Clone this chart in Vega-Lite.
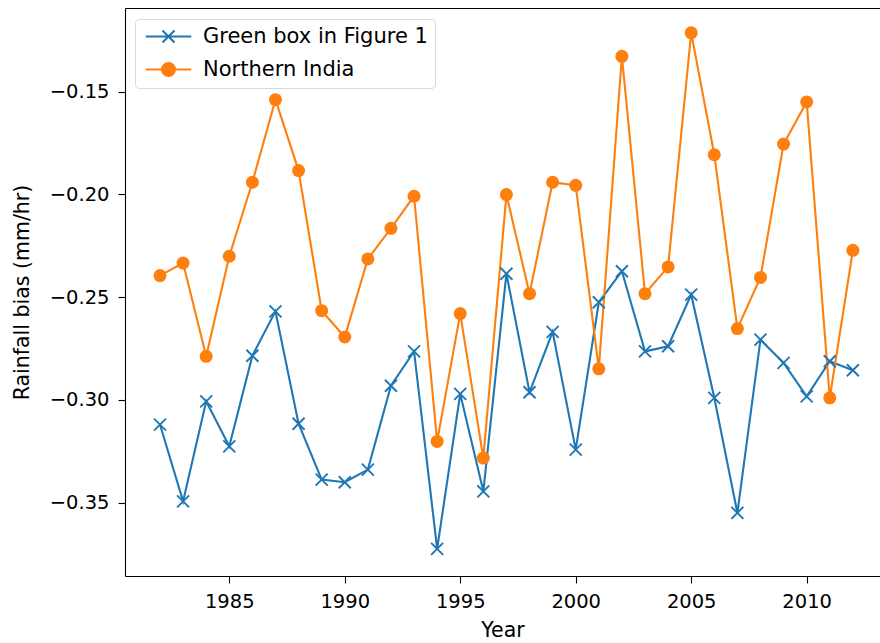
{
  "$schema": "https://vega.github.io/schema/vega-lite/v6.json",
  "autosize": {"type": "none"},
  "padding": {"left": 125, "top": 8, "right": 0, "bottom": 67},
  "width": 755,
  "height": 568,
  "background": "white",
  "config": {
    "view": {"stroke": null},
    "font": "DejaVu Sans",
    "axis": {
      "grid": false,
      "labelFont": "DejaVu Sans",
      "labelFontSize": 19.5,
      "labelColor": "#000000",
      "titleFont": "DejaVu Sans",
      "titleFontSize": 20.5,
      "titleFontWeight": "normal",
      "titleColor": "#000000",
      "domainColor": "#000000",
      "domainWidth": 1.1,
      "tickColor": "#000000",
      "tickWidth": 1.1,
      "tickSize": 7
    },
    "legend": {
      "labelFont": "DejaVu Sans",
      "labelFontSize": 21,
      "labelColor": "#000000",
      "labelLimit": 400
    }
  },
  "data": {
    "values": [
      {"Year": 1982, "series": "Green box in Figure 1", "bias": -0.312},
      {"Year": 1983, "series": "Green box in Figure 1", "bias": -0.3494},
      {"Year": 1984, "series": "Green box in Figure 1", "bias": -0.3007},
      {"Year": 1985, "series": "Green box in Figure 1", "bias": -0.3226},
      {"Year": 1986, "series": "Green box in Figure 1", "bias": -0.2785},
      {"Year": 1987, "series": "Green box in Figure 1", "bias": -0.2569},
      {"Year": 1988, "series": "Green box in Figure 1", "bias": -0.3116},
      {"Year": 1989, "series": "Green box in Figure 1", "bias": -0.3388},
      {"Year": 1990, "series": "Green box in Figure 1", "bias": -0.3401},
      {"Year": 1991, "series": "Green box in Figure 1", "bias": -0.3339},
      {"Year": 1992, "series": "Green box in Figure 1", "bias": -0.2931},
      {"Year": 1993, "series": "Green box in Figure 1", "bias": -0.2764},
      {"Year": 1994, "series": "Green box in Figure 1", "bias": -0.3725},
      {"Year": 1995, "series": "Green box in Figure 1", "bias": -0.2971},
      {"Year": 1996, "series": "Green box in Figure 1", "bias": -0.3445},
      {"Year": 1997, "series": "Green box in Figure 1", "bias": -0.2386},
      {"Year": 1998, "series": "Green box in Figure 1", "bias": -0.2963},
      {"Year": 1999, "series": "Green box in Figure 1", "bias": -0.2669},
      {"Year": 2000, "series": "Green box in Figure 1", "bias": -0.3242},
      {"Year": 2001, "series": "Green box in Figure 1", "bias": -0.2525},
      {"Year": 2002, "series": "Green box in Figure 1", "bias": -0.2374},
      {"Year": 2003, "series": "Green box in Figure 1", "bias": -0.2764},
      {"Year": 2004, "series": "Green box in Figure 1", "bias": -0.2739},
      {"Year": 2005, "series": "Green box in Figure 1", "bias": -0.2488},
      {"Year": 2006, "series": "Green box in Figure 1", "bias": -0.299},
      {"Year": 2007, "series": "Green box in Figure 1", "bias": -0.355},
      {"Year": 2008, "series": "Green box in Figure 1", "bias": -0.2707},
      {"Year": 2009, "series": "Green box in Figure 1", "bias": -0.282},
      {"Year": 2010, "series": "Green box in Figure 1", "bias": -0.2983},
      {"Year": 2011, "series": "Green box in Figure 1", "bias": -0.2812},
      {"Year": 2012, "series": "Green box in Figure 1", "bias": -0.2856},
      {"Year": 1982, "series": "Northern India", "bias": -0.2395},
      {"Year": 1983, "series": "Northern India", "bias": -0.2334},
      {"Year": 1984, "series": "Northern India", "bias": -0.2788},
      {"Year": 1985, "series": "Northern India", "bias": -0.2301},
      {"Year": 1986, "series": "Northern India", "bias": -0.1941},
      {"Year": 1987, "series": "Northern India", "bias": -0.1539},
      {"Year": 1988, "series": "Northern India", "bias": -0.1884},
      {"Year": 1989, "series": "Northern India", "bias": -0.2566},
      {"Year": 1990, "series": "Northern India", "bias": -0.2694},
      {"Year": 1991, "series": "Northern India", "bias": -0.2314},
      {"Year": 1992, "series": "Northern India", "bias": -0.2165},
      {"Year": 1993, "series": "Northern India", "bias": -0.2009},
      {"Year": 1994, "series": "Northern India", "bias": -0.3202},
      {"Year": 1995, "series": "Northern India", "bias": -0.258},
      {"Year": 1996, "series": "Northern India", "bias": -0.3283},
      {"Year": 1997, "series": "Northern India", "bias": -0.2001},
      {"Year": 1998, "series": "Northern India", "bias": -0.2483},
      {"Year": 1999, "series": "Northern India", "bias": -0.1941},
      {"Year": 2000, "series": "Northern India", "bias": -0.1956},
      {"Year": 2001, "series": "Northern India", "bias": -0.2849},
      {"Year": 2002, "series": "Northern India", "bias": -0.1328},
      {"Year": 2003, "series": "Northern India", "bias": -0.2483},
      {"Year": 2004, "series": "Northern India", "bias": -0.2353},
      {"Year": 2005, "series": "Northern India", "bias": -0.1214},
      {"Year": 2006, "series": "Northern India", "bias": -0.1807},
      {"Year": 2007, "series": "Northern India", "bias": -0.2653},
      {"Year": 2008, "series": "Northern India", "bias": -0.2404},
      {"Year": 2009, "series": "Northern India", "bias": -0.1755},
      {"Year": 2010, "series": "Northern India", "bias": -0.155},
      {"Year": 2011, "series": "Northern India", "bias": -0.299},
      {"Year": 2012, "series": "Northern India", "bias": -0.2272}
    ]
  },
  "resolve": {"axis": {"x": "independent"}},
  "layer": [
    {
      "mark": {"type": "line", "strokeWidth": 2.1},
      "encoding": {
        "x": {
          "field": "Year",
          "type": "quantitative",
          "scale": {"domain": [1980.485, 2013.175], "nice": false, "zero": false},
          "axis": {
            "title": "Year",
            "values": [1985, 1990, 1995, 2000, 2005, 2010],
            "format": "d",
            "labelPadding": 9,
            "titlePadding": 10
          }
        },
        "y": {
          "field": "bias",
          "type": "quantitative",
          "scale": {"domain": [-0.3857, -0.1093], "nice": false, "zero": false},
          "axis": {
            "title": "Rainfall bias (mm/hr)",
            "values": [-0.35, -0.3, -0.25, -0.2, -0.15],
            "format": ".2f",
            "labelPadding": 9,
            "titlePadding": 17
          }
        },
        "color": {
          "field": "series",
          "type": "nominal",
          "scale": {
            "domain": ["Green box in Figure 1", "Northern India"],
            "range": ["#1f77b4", "#ff7f0e"]
          },
          "legend": {
            "title": null,
            "orient": "none",
            "legendX": 10,
            "legendY": 11,
            "fillColor": "white",
            "strokeColor": "#d9d9d9",
            "cornerRadius": 4,
            "padding": 7,
            "symbolSize": 169,
            "symbolOffset": 16,
            "labelOffset": 24,
            "rowPadding": 11,
            "encode": {
              "symbols": {
                "update": {
                  "shape": {"signal": "datum.value === 'Northern India' ? 'M-3.5,0H3.5M1,0A1,1 0 1,1 -1,0A1,1 0 1,1 1,0Z' : 'M-3.5,0H3.5M-0.92,-0.92L0.92,0.92M-0.92,0.92L0.92,-0.92'"},
                  "fill": {"signal": "datum.value === 'Northern India' ? '#ff7f0e' : 'transparent'"},
                  "stroke": {"signal": "datum.value === 'Northern India' ? '#ff7f0e' : '#1f77b4'"},
                  "strokeWidth": {"value": 2.1},
                  "opacity": {"value": 1}
                }
              }
            }
          }
        }
      }
    },
    {
      "transform": [{"filter": "datum.series === 'Green box in Figure 1'"}],
      "mark": {
        "type": "point",
        "shape": "M-1,-1L1,1M-1,1L1,-1",
        "filled": false,
        "size": 144,
        "strokeWidth": 1.9,
        "opacity": 1
      },
      "encoding": {
        "x": {
          "field": "Year",
          "type": "quantitative",
          "axis": {"orient": "top", "labels": false, "ticks": false, "title": null, "domain": true}
        },
        "y": {"field": "bias", "type": "quantitative"},
        "color": {"field": "series", "type": "nominal", "legend": null}
      }
    },
    {
      "transform": [{"filter": "datum.series === 'Northern India'"}],
      "mark": {"type": "circle", "size": 169, "opacity": 1},
      "encoding": {
        "x": {"field": "Year", "type": "quantitative", "axis": null},
        "y": {"field": "bias", "type": "quantitative"},
        "color": {"field": "series", "type": "nominal", "legend": null}
      }
    }
  ]
}
